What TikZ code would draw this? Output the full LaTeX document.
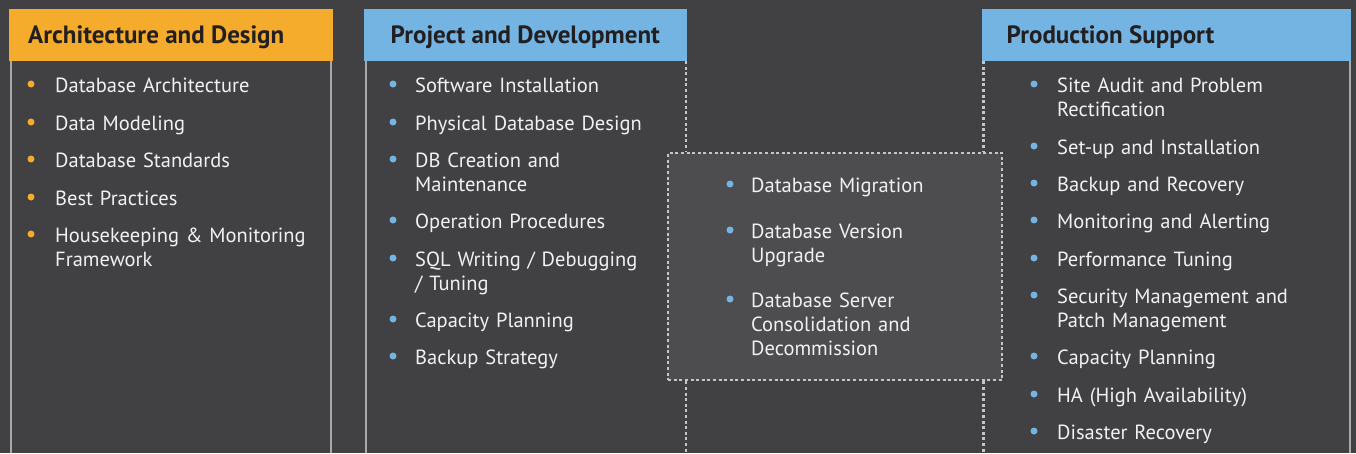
\documentclass[tikz,border=0pt]{standalone}
\usepackage{fontspec}
\setmainfont{PT Sans}
\definecolor{bg}{HTML}{414042}
\definecolor{midfill}{HTML}{4D4D4F}
\definecolor{hdorange}{HTML}{F5AB2B}
\definecolor{hdblue}{HTML}{74B4E2}
\definecolor{hdtext}{HTML}{231F20}
\definecolor{bodytext}{HTML}{F1F1F2}
\definecolor{edge}{HTML}{A7A9AC}
\definecolor{dotline}{HTML}{C4C6C8}
\newcommand\Itm[6]{%
  \node[bul,fill=#5] (#1b) at (#2,#4-8) {};
  \node[itm] (#1) at (#3,#4) {#6};}
\begin{document}
\begin{tikzpicture}[x=1pt,y=-1pt,
  hdrbox/.style={anchor=north west,inner sep=0pt,minimum height=52.5pt},
  hdrtext/.style={anchor=base west,inner sep=0pt,text=hdtext,font=\bfseries\fontsize{25}{28}\selectfont},
  itm/.style={anchor=base west,inner sep=0pt,text=bodytext,text width=295pt,align=left,font=\fontsize{20.5}{24}\selectfont},
  bul/.style={circle,inner sep=0pt,minimum size=7pt},
  edgeline/.style={draw=edge,line width=2pt},
  dotted line/.style={draw=dotline,line width=2.4pt,dash pattern=on 3pt off 2.6pt},
]
\useasboundingbox (0,0) rectangle (1356,453);
\fill[bg] (0,0) rectangle (1356,453);

% middle box
\node[anchor=north west,inner sep=0pt,minimum width=334pt,minimum height=227pt,fill=midfill,dotted line] (mid) at (667,152) {};

% headers
\node[hdrbox,fill=hdorange,minimum width=324pt] (h1) at (9,8.5) {};
\node[hdrbox,fill=hdblue,minimum width=323pt] (h2) at (364,8.5) {};
\node[hdrbox,fill=hdblue,minimum width=369pt] (h3) at (982,8.5) {};
\node[hdrtext] (h1t) at (28,43.5) {Architecture and Design};
\node[hdrtext] (h2t) at (390.5,43.5) {Project and Development};
\node[hdrtext] (h3t) at (1006.5,43.5) {Production Support};

% column borders
\draw[edgeline] (11,61) -- (11,453);
\draw[edgeline] (331,61) -- (331,453);
\draw[edgeline] (365.5,61) -- (365.5,453);
\draw[edgeline] (1350,61) -- (1350,453);
\draw[dotted line] (686,61) -- (mid.north -| 686,0);
\draw[dotted line] (mid.south -| 686,0) -- (686,453);
\draw[dotted line] (983.5,61) -- (mid.north -| 983.5,0);
\draw[dotted line] (mid.south -| 983.5,0) -- (983.5,453);

% column 1
\Itm{a1}{31}{55}{92}{hdorange}{Database Architecture}
\Itm{a2}{31}{55}{130}{hdorange}{Data Modeling}
\Itm{a3}{31}{55}{167}{hdorange}{Database Standards}
\Itm{a4}{31}{55}{205}{hdorange}{Best Practices}
\Itm{a5}{31}{55}{242}{hdorange}{Housekeeping \& Monitoring\\Framework}

% column 2
\Itm{b1}{393}{415}{92}{hdblue}{Software Installation}
\Itm{b2}{393}{415}{130}{hdblue}{Physical Database Design}
\Itm{b3}{393}{415}{167}{hdblue}{DB Creation and\\Maintenance}
\Itm{b4}{393}{415}{228}{hdblue}{Operation Procedures}
\Itm{b5}{393}{415}{266}{hdblue}{SQL Writing / Debugging\\/ Tuning}
\Itm{b6}{393}{415}{327}{hdblue}{Capacity Planning}
\Itm{b7}{393}{415}{364}{hdblue}{Backup Strategy}

% middle
\Itm{m1}{730}{751}{192}{hdblue}{Database Migration}
\Itm{m2}{730}{751}{238}{hdblue}{Database Version\\Upgrade}
\Itm{m3}{730}{751}{307}{hdblue}{Database Server\\Consolidation and\\Decommission}

% column 3
\Itm{c1}{1034}{1057}{92}{hdblue}{Site Audit and Problem\\Rectification}
\Itm{c2}{1034}{1057}{154}{hdblue}{Set-up and Installation}
\Itm{c3}{1034}{1057}{191}{hdblue}{Backup and Recovery}
\Itm{c4}{1034}{1057}{228}{hdblue}{Monitoring and Alerting}
\Itm{c5}{1034}{1057}{266}{hdblue}{Performance Tuning}
\Itm{c6}{1034}{1057}{303}{hdblue}{Security Management and\\Patch Management}
\Itm{c7}{1034}{1057}{364}{hdblue}{Capacity Planning}
\Itm{c8}{1034}{1057}{402}{hdblue}{HA (High Availability)}
\Itm{c9}{1034}{1057}{439}{hdblue}{Disaster Recovery}
\end{tikzpicture}
\end{document}
